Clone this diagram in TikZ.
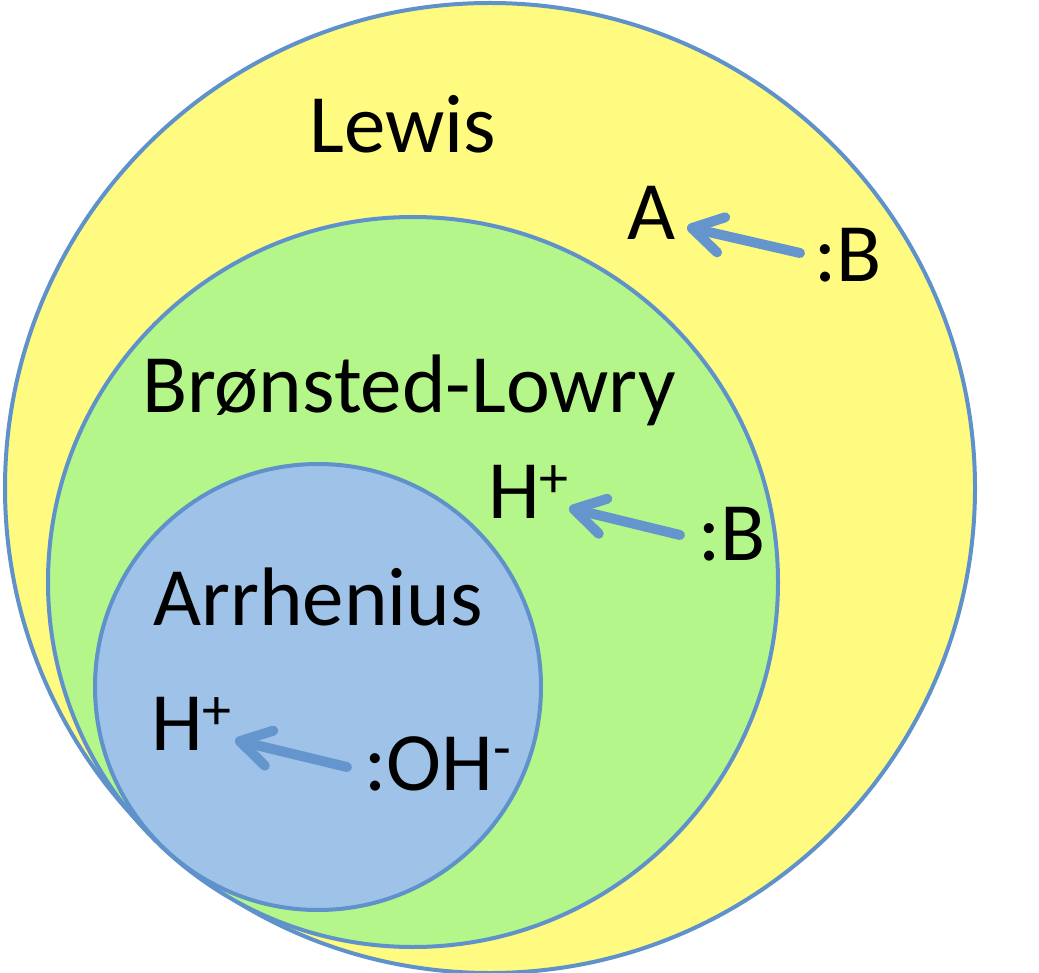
\documentclass[tikz,border=0pt]{standalone}
\usepackage{fontspec}
\setmainfont{Carlito}
\usetikzlibrary{arrows.meta}
\definecolor{lewisfill}{RGB}{255,250,128}
\definecolor{bronfill}{RGB}{181,246,138}
\definecolor{arrhfill}{RGB}{158,194,232}
\definecolor{edgeblue}{RGB}{95,146,202}
\definecolor{arrowblue}{RGB}{100,150,205}
\newcommand{\supplus}{\raisebox{0.25em}{\fontsize{58}{58}\selectfont +}}
\newcommand{\supminus}{\raisebox{0.27em}{\fontsize{58}{58}\selectfont -}}
\begin{document}
\begin{tikzpicture}[x=1pt,y=-1pt,
  setcircle/.style={draw=edgeblue, line width=4pt},
  lbl/.style={anchor=base west, inner sep=0pt, font=\fontsize{83}{100}\selectfont},
  arr/.style={draw=arrowblue, line width=10pt, line cap=round,
    -{Straight Barb[length=30pt,width=36pt,round]}}]
\useasboundingbox (0,0) rectangle (1039,973);
\fill[white] (0,0) rectangle (1039,973);
% circles
\filldraw[setcircle, fill=lewisfill] (490,488) circle[radius=485];
\filldraw[setcircle, fill=bronfill] (413,582) circle[radius=365];
\filldraw[setcircle, fill=arrhfill] (318,687) circle[radius=223];
% labels
\node[lbl] (lewis) at (309,153) {Lewis};
\node[lbl] (A1) at (627,240) {A};
\node[lbl] (B1) at (814,282) {:B};
\node[lbl] (bl) at (142,413) {Brønsted-Lowry};
\node[lbl] (H2) at (488,518) {H\supplus};
\node[lbl] (B2) at (698,560) {:B};
\node[lbl] (arr) at (153,625) {Arrhenius};
\node[lbl] (H3) at (151,750) {H\supplus};
\node[lbl] (OH3) at (364,790) {:OH\supminus};
% arrows
\draw[arr] ([shift={(-14,-29)}]B1.base west) -- ([shift={(60,-13)}]A1.base west);
\draw[arr] ([shift={(-18,-25)}]B2.base west) -- ([shift={(81,-10)}]H2.base west);
\draw[arr] ([shift={(-17,-23)}]OH3.base west) -- ([shift={(84,-10)}]H3.base west);
\end{tikzpicture}
\end{document}
